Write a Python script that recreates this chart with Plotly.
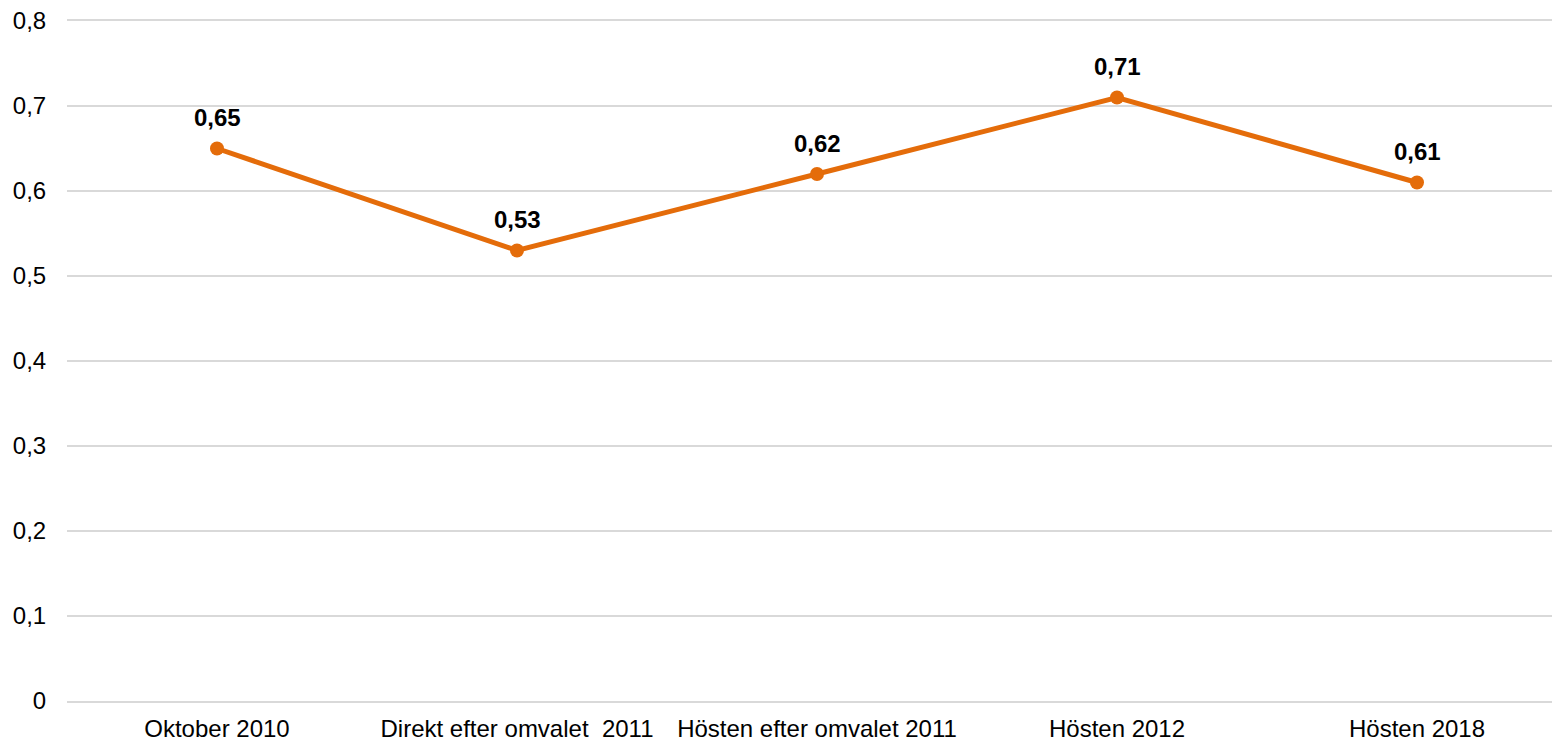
import plotly.graph_objects as go

categories = ["Oktober 2010", "Direkt efter omvalet  2011", "Hösten efter omvalet 2011", "Hösten 2012", "Hösten 2018"]
values = [0.65, 0.53, 0.62, 0.71, 0.61]
value_labels = ["0,65", "0,53", "0,62", "0,71", "0,61"]
y_tickvals = [0, 0.1, 0.2, 0.3, 0.4, 0.5, 0.6, 0.7, 0.8]
y_ticktext = ["0", "0,1", "0,2", "0,3", "0,4", "0,5", "0,6", "0,7", "0,8"]

ORANGE = "#E46C0A"
GRID = "#d9d9d9"
FONT = "Liberation Sans, Arial, sans-serif"

fig = go.Figure()
fig.add_trace(go.Scatter(
    x=categories,
    y=values,
    mode="lines+markers",
    line=dict(color=ORANGE, width=5),
    marker=dict(color=ORANGE, size=14),
    cliponaxis=False,
    hoverinfo="skip",
))

for c, v, lab in zip(categories, values, value_labels):
    fig.add_annotation(
        x=c, y=v, text="<b>" + lab + "</b>",
        showarrow=False, yshift=31, yanchor="middle",
        font=dict(family=FONT, size=24, color="#000000"),
    )

fig.update_layout(
    width=1552,
    height=740,
    margin=dict(l=67, r=0, t=21, b=39, autoexpand=False),
    paper_bgcolor="white",
    plot_bgcolor="white",
    separators=", ",
    showlegend=False,
    font=dict(family=FONT, size=24, color="#000000"),
)
fig.update_xaxes(
    type="category",
    range=[-0.5, 4.45],
    automargin=False,
    showgrid=False,
    showline=True,
    linecolor=GRID,
    linewidth=2,
    mirror=True,
    zeroline=False,
    ticks="outside",
    ticklen=5,
    tickcolor="rgba(0,0,0,0)",
    tickfont=dict(family=FONT, size=24, color="#000000"),
)
fig.update_yaxes(
    range=[0, 0.8],
    automargin=False,
    tickvals=y_tickvals,
    ticktext=y_ticktext,
    showgrid=True,
    gridcolor=GRID,
    gridwidth=2,
    zeroline=False,
    showline=False,
    ticks="outside",
    ticklen=15,
    tickcolor="rgba(0,0,0,0)",
    tickfont=dict(family=FONT, size=24, color="#000000"),
)

fig.write_html(
    "out.html",
    config={"displayModeBar": False},
    post_script="document.body.style.margin='0';document.body.style.overflow='hidden';",
)
